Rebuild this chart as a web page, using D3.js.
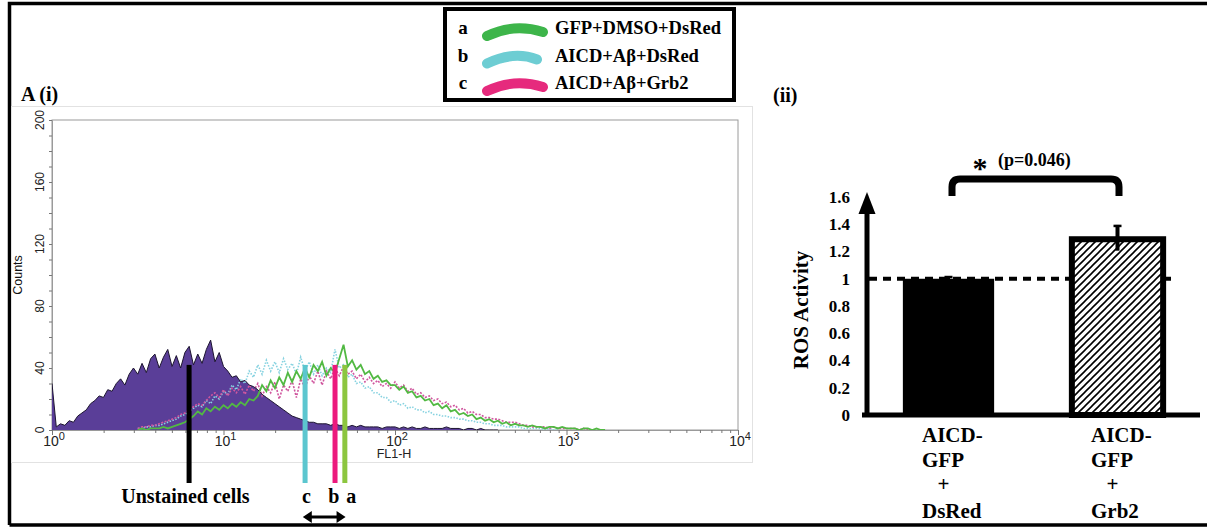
<!DOCTYPE html>
<html><head><meta charset="utf-8">
<script src="https://cdn.jsdelivr.net/npm/d3@7"></script>
<style>body{margin:0;background:#fff}svg{display:block}</style>
</head><body>
<svg id="c" width="1207" height="529"></svg>
<script>
// ---------- DATA: panel A(i) flow histogram (counts per log-channel bin) ----------
const binStep = 0.025;            // bin width in decades (log10 FL1-H)
const unstainedStart = 0;         // log10 of first bin
const unstained = [30,2,4,3,6,5,9,11,13,17,19,22,21,26,25,30,33,29,36,40,36,43,37,46,49,40,47,52,41,48,40,50,54,42,49,43,52,58,44,50,41,38,34,35,31,32,29,28,26,23,21,19,17,15,13,11,9,8,7,6,5,5,4,4,4,3,4,3,3,2,3,2,3,2,2,2,2,1,2,2,2,1,2,1,2,1,1,2,1,1,1,1,2,1,1,1,0,1,1,0,1,0,0,0,0];
const aStart = 0.5;               // a: GFP+DMSO+DsRed (green)
const seriesA = [0,1,0,1,1,1,2,1,2,3,4,5,7,9,12,10,14,12,15,13,16,14,17,15,18,16,20,19,22,29,25,32,27,34,29,37,31,38,33,40,34,42,38,44,35,40,37,46,55,41,45,39,42,36,38,33,35,31,32,29,29,26,28,24,25,21,22,19,20,16,17,14,16,12,13,10,11,9,10,7,8,6,7,5,6,4,5,3,4,3,3,2,3,2,2,1,2,2,1,2,1,1,1,0,1,1,0,1,0,0];
const bStart = 0.5;               // b: AICD+Aβ+DsRed (cyan)
const seriesB = [1,1,2,2,3,3,4,5,6,7,9,10,12,14,16,15,19,17,22,20,25,23,29,26,33,30,38,34,42,36,45,38,44,37,46,39,43,36,47,38,44,36,42,35,40,37,52,40,42,34,36,30,31,27,28,24,24,21,21,18,19,16,17,14,15,13,13,11,12,10,10,9,9,8,8,7,7,6,6,5,5,4,4,3,3,3,2,2,2,2,1,1,1,1,1,0,1,0,0];
const cStart = 0.5;               // c: AICD+Aβ+Grb2 (pink)
const seriesC = [1,2,2,3,3,4,5,6,7,8,10,11,13,15,17,16,19,22,24,21,26,22,27,24,28,23,29,25,30,22,28,24,31,20,29,25,32,21,33,27,35,30,38,29,38,33,40,35,41,36,38,33,36,31,34,30,32,28,30,27,31,27,29,25,27,23,24,21,22,19,20,17,18,15,16,13,14,11,12,10,10,8,8,7,7,6,5,5,5,4,3,3,2,2,2,2,1,2,1,1,1,1,1,0,1,0];
const countTicks = [0,40,80,120,160,200];
const decadeTicks = [1,10,100,1000,10000];
const decadeExp = ["0","1","2","3","4"];
const markerValues = [6.3, 29.9, 44.7, 51];
const markerColors = ["#000000","#5cc6cf","#ec1a7d","#8cc63f"];
const markerLabels = ["Unstained cells","c","b","a"];
const markerLabelValues = [6.0, 30.5, 44.0, 55.5];

// legend
const legendKeys = ["a","b","c"];
const legendNames = ["GFP+DMSO+DsRed","AICD+Aβ+DsRed","AICD+Aβ+Grb2"];
const legendColors = ["#3db54a","#6dcdd3","#e62a7d"];

// ---------- DATA: panel (ii) ROS bar chart ----------
const rosCategories = ["AICD-GFP+DsRed","AICD-GFP+Grb2"];
const rosLabelLines = [["AICD-","GFP","+","DsRed"],["AICD-","GFP","+","Grb2"]];
const rosValues = [1.0, 1.29];
const rosErrors = [0.02, 0.105];
const rosTicks = [0,0.2,0.4,0.6,0.8,1,1.2,1.4,1.6];
const rosTickLabels = ["0","0.2","0.4","0.6","0.8","1","1.2","1.4","1.6"];
const pText = "(p=0.046)";

// ---------- DRAW ----------
const svg = d3.select("#c");
const serif = "'Liberation Serif','Times New Roman',serif";
const sans = "'Liberation Sans',Arial,sans-serif";
svg.append("rect").attr("width",1207).attr("height",529).attr("fill","#fff");

// outer frame
svg.append("path").attr("d","M9.5,525 L9.5,3.5 L1207,3.5 M9.5,525 L1207,525")
  .attr("fill","none").attr("stroke","#000").attr("stroke-width",3.5);

// grey panel of the cytometry plot
svg.append("rect").attr("x",11.5).attr("y",106.5).attr("width",741).attr("height",356)
  .attr("fill","none").attr("stroke","#e2e2e2");

svg.append("text").attr("x",21).attr("y",101).attr("font-family",serif).attr("font-weight","bold")
  .attr("font-size",20).text("A (i)");

// scales
const x = d3.scaleLog().domain([1,10000]).range([52,738]);
const y = d3.scaleLinear().domain([0,200]).range([430,120]);

const g = svg.append("g");
g.append("rect").attr("x",52).attr("y",120).attr("width",686).attr("height",310)
  .attr("fill","none").attr("stroke","#9a9a9a").attr("stroke-width",1);

// y axis
const yAx = g.append("g").attr("transform","translate(52,0)")
  .call(d3.axisLeft(y).tickValues(d3.range(0,201,10)).tickSize(3).tickFormat(""));
yAx.select(".domain").attr("stroke","#9a9a9a");
yAx.selectAll(".tick line").attr("stroke","#777");
countTicks.forEach(v=>{
  g.append("text").attr("transform",`translate(44,${y(v)}) rotate(-90)`)
   .attr("text-anchor","middle").attr("font-family",sans).attr("font-size",12).attr("fill","#222").text(v);
});
g.append("text").attr("transform","translate(22,275) rotate(-90)").attr("text-anchor","middle")
  .attr("font-family",sans).attr("font-size",12.5).attr("fill","#111").text("Counts");

// x axis
const minors = [];
for (let d=0; d<4; d++) for (let k=2;k<=9;k++) minors.push(k*Math.pow(10,d));
const xAx = g.append("g").attr("transform","translate(0,430)")
  .call(d3.axisBottom(x).tickValues(minors).tickSize(3).tickFormat(""));
xAx.select(".domain").attr("stroke","#9a9a9a");
xAx.selectAll(".tick line").attr("stroke","#777");
const xAx2 = g.append("g").attr("transform","translate(0,430)")
  .call(d3.axisBottom(x).tickValues(decadeTicks).tickSize(5).tickFormat(""));
xAx2.select(".domain").remove();
xAx2.selectAll(".tick line").attr("stroke","#777");
decadeTicks.forEach((v,i)=>{
  const t = g.append("text").attr("x",x(v)+2).attr("y",446).attr("text-anchor","middle")
    .attr("font-family",sans).attr("font-size",14).attr("fill","#222");
  t.append("tspan").text("10");
  t.append("tspan").attr("dy",-6).attr("font-size",11).text(decadeExp[i]);
});
g.append("text").attr("x",394).attr("y",458).attr("text-anchor","middle").attr("font-family",sans)
  .attr("font-size",12.5).attr("fill","#222").text("FL1-H");

// histograms
svg.append("clipPath").attr("id","plotclip").append("rect").attr("x",52).attr("y",120).attr("width",686).attr("height",310);
const hg = g.append("g").attr("clip-path","url(#plotclip)");
const toPts = (arr,start)=>arr.map((v,i)=>[Math.pow(10,start+i*binStep),v]);
const area = d3.area().x(d=>x(d[0])).y0(y(0)).y1(d=>y(d[1]));
const line = d3.line().x(d=>x(d[0])).y(d=>y(d[1]));
const pu = toPts(unstained,unstainedStart);
hg.append("path").attr("d",area(pu)).attr("fill","#5a3e98");
hg.append("path").attr("d",line(toPts(seriesB,bStart))).attr("fill","none").attr("stroke","#86d2e0")
  .attr("stroke-width",1.6).attr("stroke-dasharray","1.5,1.5");
hg.append("path").attr("d",line(toPts(seriesC,cStart))).attr("fill","none").attr("stroke","#d0579f")
  .attr("stroke-width",1.6).attr("stroke-dasharray","2,1.5");
hg.append("path").attr("d",line(pu)).attr("fill","none").attr("stroke","#1d1530").attr("stroke-width",1);
hg.append("path").attr("d",line(toPts(seriesA,aStart))).attr("fill","none").attr("stroke","#52b943")
  .attr("stroke-width",1.8);

// marker lines
markerValues.forEach((v,i)=>{
  svg.append("rect").attr("x",x(v)-2.5).attr("y",y(42)).attr("width",5).attr("height",483-y(42))
    .attr("fill",markerColors[i]);
});
markerLabels.forEach((t,i)=>{
  svg.append("text").attr("x",x(markerLabelValues[i])).attr("y",503).attr("text-anchor","middle")
    .attr("font-family",serif).attr("font-weight","bold").attr("font-size",20).text(t);
});
const ax1 = x(29), ax2 = x(51.5);
svg.append("line").attr("x1",ax1+6).attr("x2",ax2-6).attr("y1",517).attr("y2",517).attr("stroke","#000").attr("stroke-width",3);
svg.append("path").attr("d",`M${ax1},517 L${ax1+9},511 L${ax1+9},523 Z M${ax2},517 L${ax2-9},511 L${ax2-9},523 Z`).attr("fill","#000");

// legend
svg.append("rect").attr("x",445).attr("y",9).attr("width",289).attr("height",91)
  .attr("fill","#fff").attr("stroke","#000").attr("stroke-width",4);
legendKeys.forEach((k,i)=>{
  const b = 34 + i*27.5;
  svg.append("text").attr("x",463).attr("y",b).attr("text-anchor","middle").attr("font-family",serif)
    .attr("font-weight","bold").attr("font-size",19).text(k);
  svg.append("path").attr("d",`M487,${b+2} Q514,${b-11} ${543 - (i===1?6:0)},${b-2}`).attr("fill","none")
    .attr("stroke",legendColors[i]).attr("stroke-width",10).attr("stroke-linecap","round");
  svg.append("text").attr("x",555).attr("y",b).attr("font-family",serif).attr("font-weight","bold")
    .attr("font-size",18.5).text(legendNames[i]);
});

// ---------- panel (ii) ----------
svg.append("text").attr("x",773).attr("y",102).attr("font-family",serif).attr("font-weight","bold")
  .attr("font-size",20).text("(ii)");

const ry = d3.scaleLinear().domain([0,1.6]).range([415,197]);
const rx = d3.scaleBand().domain(rosCategories).range([864,1202]).paddingInner(0.46).paddingOuter(0.23);

const defs = svg.append("defs");
const pat = defs.append("pattern").attr("id","hatch").attr("patternUnits","userSpaceOnUse").attr("width",7).attr("height",7);
pat.append("rect").attr("width",7).attr("height",7).attr("fill","#fff");
pat.append("path").attr("d","M-1,1 L1,-1 M0,7 L7,0 M6,8 L8,6").attr("stroke","#000").attr("stroke-width",1.6);

svg.append("line").attr("x1",869).attr("x2",1176).attr("y1",ry(1)).attr("y2",ry(1))
  .attr("stroke","#000").attr("stroke-width",4).attr("stroke-dasharray","8,6");

rosCategories.forEach((c,i)=>{
  const bx = rx(c), bw = rx.bandwidth();
  if (i===0) {
    svg.append("rect").attr("x",bx).attr("y",ry(rosValues[i])).attr("width",bw)
      .attr("height",ry(0)-ry(rosValues[i])).attr("fill","#000");
  } else {
    svg.append("rect").attr("x",bx).attr("y",ry(rosValues[i])).attr("width",bw)
      .attr("height",ry(0)-ry(rosValues[i])).attr("fill","url(#hatch)").attr("stroke","#000").attr("stroke-width",6);
  }
  const cx = bx + bw/2;
  const top = ry(rosValues[i]+rosErrors[i]);
  svg.append("line").attr("x1",cx).attr("x2",cx).attr("y1",top).attr("y2",ry(rosValues[i]-rosErrors[i]*0.8))
    .attr("stroke","#000").attr("stroke-width",i===0?3:4);
  svg.append("line").attr("x1",cx-4).attr("x2",cx+4).attr("y1",top+1).attr("y2",top+1)
    .attr("stroke","#000").attr("stroke-width",2.5);
  rosLabelLines[i].forEach((t,j)=>{
    const base = [442,467,491,518][j];
    const plus = t === "+";
    svg.append("text").attr("x",plus ? cx-5 : cx-26.5).attr("y",base)
      .attr("text-anchor",plus?"middle":"start").attr("font-family",serif).attr("font-weight","bold")
      .attr("font-size",21).text(t);
  });
});

svg.append("line").attr("x1",862).attr("x2",1200).attr("y1",ry(0)).attr("y2",ry(0)).attr("stroke","#000").attr("stroke-width",5);
svg.append("line").attr("x1",867).attr("x2",867).attr("y1",ry(0)+2).attr("y2",210).attr("stroke","#000").attr("stroke-width",5);
svg.append("path").attr("d","M867,192 L858.5,214 L875.5,214 Z").attr("fill","#000");
rosTicks.forEach((v,i)=>{
  svg.append("text").attr("x",850).attr("y",ry(v)).attr("dy","0.35em").attr("text-anchor","end")
    .attr("font-family",serif).attr("font-weight","bold").attr("font-size",17).text(rosTickLabels[i]);
});
svg.append("text").attr("transform","translate(808,310) rotate(-90)").attr("text-anchor","middle")
  .attr("font-family",serif).attr("font-weight","bold").attr("font-size",21).text("ROS Activity");

const bx1 = rx(rosCategories[0]) + rx.bandwidth()/2 + 3.5;
const bx2 = rx(rosCategories[1]) + rx.bandwidth()/2 + 1.5;
svg.append("path").attr("d",`M${bx1},196 L${bx1},187 Q${bx1},179 ${bx1+8},179 L${bx2-8},179 Q${bx2},179 ${bx2},187 L${bx2},196`)
  .attr("fill","none").attr("stroke","#000").attr("stroke-width",7);
svg.append("text").attr("x",980).attr("y",178).attr("text-anchor","middle").attr("font-family",serif)
  .attr("font-weight","bold").attr("font-size",30).text("*");
svg.append("text").attr("x",998).attr("y",166).attr("font-family",serif).attr("font-weight","bold")
  .attr("font-size",18).text(pText);
</script>
</body></html>
